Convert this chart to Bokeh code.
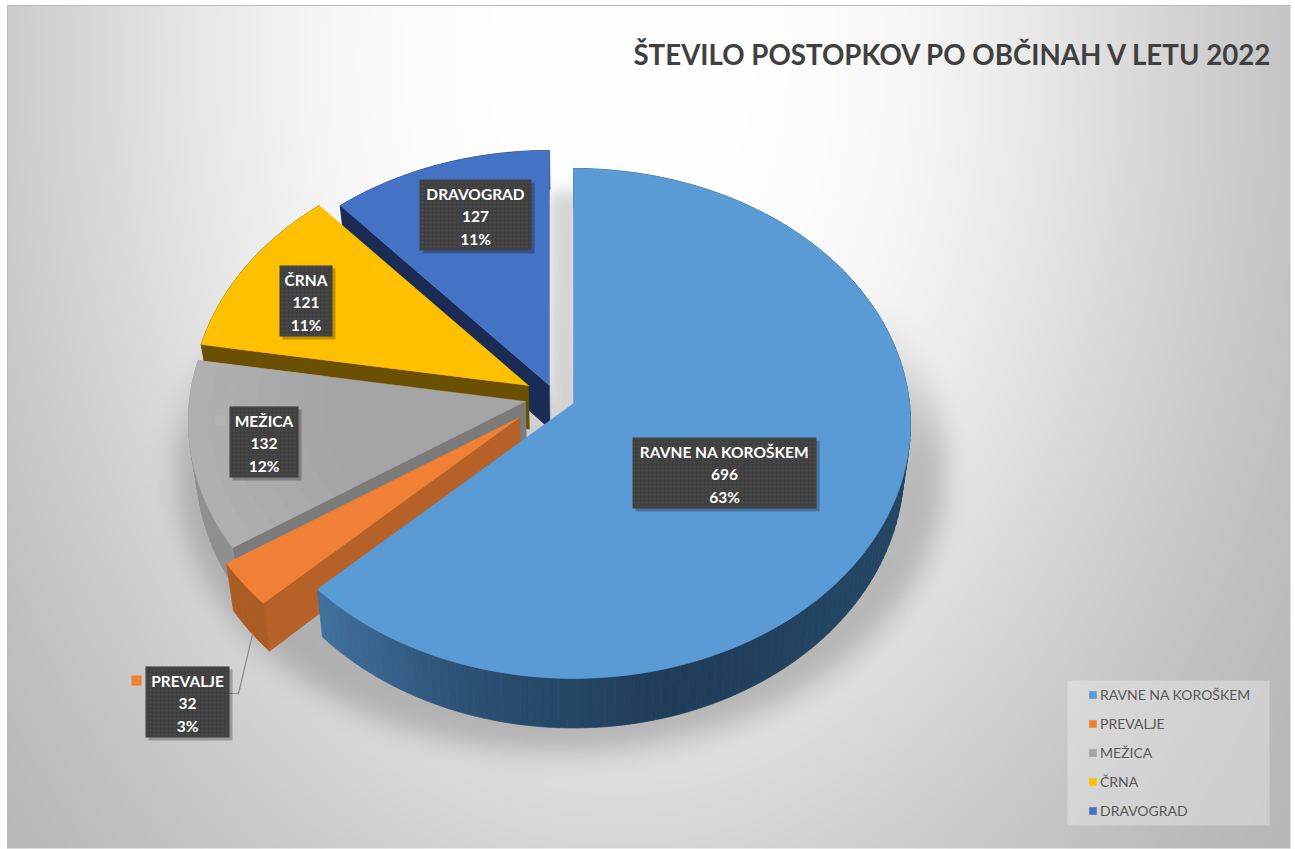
import numpy as np
from bokeh.plotting import figure
from bokeh.models import Legend, LegendItem
from bokeh.core.properties import value
from bokeh.embed import file_html
from bokeh.resources import INLINE

TITLE = "ŠTEVILO POSTOPKOV PO OBČINAH V LETU 2022"
names = ["RAVNE NA KOROŠKEM", "PREVALJE", "MEŽICA", "ČRNA", "DRAVOGRAD"]
values = [696, 32, 132, 121, 127]

top_colors = ["#5b9bd5", "#f08035", "#a5a5a5", "#ffc000", "#4472c4"]
radial_colors = ["#2c5478", "#b56127", "#7b7b7b", "#6a5000", "#1b2c54"]
rim_stops = [
    [(0, "#234563"), (130, "#234563"), (165, "#1f3c58"), (195, "#2a4f72"), (226, "#41729f")],
    [(0, "#ab5c23"), (360, "#ab5c23")],
    [(0, "#8a8a8a"), (360, "#929292")],
    [(0, "#6a5000"), (360, "#6a5000")],
    [(0, "#1b2c54"), (360, "#1b2c54")],
]
shift_x = [0, -54, -48, -45, -24]
shift_y = [0, 14, -2, -18, -18]

CX, CY, RX, RY, PERSP = 573.0, 403.0, 336.0, 253.4, 0.0784
W, H = 1295, 849
AL, AT, AR, AB = 7, 5, 1290, 848

p = figure(width=W, height=H, x_range=(0, W), y_range=(H, 0),
           x_axis_type=None, y_axis_type=None, toolbar_location=None,
           output_backend="svg", min_border=0, outline_line_color=None)
p.grid.visible = False
p.background_fill_color = "white"
p.border_fill_color = "white"

# ---------- backdrop: radial fill + soft cast shadow -------------
STEP = 2
yy, xx = np.mgrid[AT:AB:STEP, AL:AR:STEP].astype(float)
d = np.sqrt(((xx - 620) / 650) ** 2 + ((yy - 60) / 950) ** 2)
shade = 255 - 76 * (1 - np.exp(-1.3 * d ** 2.9))

def blur(a, r):
    k = np.ones(2 * r + 1) / (2 * r + 1)
    for _ in range(3):
        a = np.apply_along_axis(lambda v: np.convolve(v, k, mode="same"), 0, a)
        a = np.apply_along_axis(lambda v: np.convolve(v, k, mode="same"), 1, a)
    return a

mask = (((xx - 560) / 385) ** 2 + ((yy - 470) / 282) ** 2 <= 1).astype(float)
mask *= np.clip((yy - 300) / 150, 0, 1)
cast = blur(mask, 6)
gap = ((xx > 548) & (xx < 580) & (yy > 190) & (yy < 420)).astype(float)
cast = np.maximum(cast, 0.8 * blur(gap, 3))
shade = shade * (1 - 0.2 * cast)

rgba = np.empty(shade.shape, dtype=np.uint32)
view = rgba.view(dtype=np.uint8).reshape((*shade.shape, 4))
g = np.clip(shade, 0, 255).astype(np.uint8)
view[..., 0] = g
view[..., 1] = g
view[..., 2] = g
view[..., 3] = 255
p.image_rgba(image=[rgba], x=AL, y=AT, dw=AR - AL, dh=AB - AT)
p.line([AL, AL, AR], [AB, AT, AT], line_color="#b8b8b8", line_width=1)

# ---------- projection -----------------------------------------
def project(theta, r, sx, sy):
    t = np.radians(theta)
    w = 1 + PERSP * r * np.cos(t)
    return CX + sx + RX * r * np.sin(t) / w, CY + sy - RY * r * np.cos(t) / w

def lower(x, y):
    return CX + (x - CX) * 0.98, y + 44 + (y - CY) * 0.02

def hex2rgb(h):
    return np.array([int(h[i:i + 2], 16) for i in (1, 3, 5)], dtype=float)

def ramp(stops, theta):
    a = [s[0] for s in stops]
    c = np.array([hex2rgb(s[1]) for s in stops])
    v = [np.interp(theta, a, c[:, j]) for j in range(3)]
    return "#%02x%02x%02x" % tuple(int(round(q)) for q in v)

total = sum(values)
edges = np.concatenate([[0], np.cumsum(values)]) / total * 360.0
renderers = {}

for i in reversed(range(len(values))):
    a0, a1 = edges[i], edges[i + 1]
    sx, sy = shift_x[i], shift_y[i]
    ax, ay = CX + sx, CY + sy
    mx, my = project((a0 + a1) / 2, 0.6, sx, sy)
    # radial walls seen from the viewer's side
    for a in (a0, a1):
        rx, ry = project(a, 1, sx, sy)
        t = (ax - rx)
        edge_y_at_mid = ry + (ay - ry) * ((mx - rx) / t) if abs(t) > 1e-6 else None
        if edge_y_at_mid is not None and my < edge_y_at_mid:
            bax, bay = lower(ax, ay)
            brx, bry = lower(rx, ry)
            p.patch([ax, rx, brx, bax], [ay, ry, bry, bay], fill_color=radial_colors[i],
                    line_color=radial_colors[i], line_width=0.5)
    # outer wall
    n = max(int((a1 - a0) / 1.5), 2)
    angles = np.linspace(a0, a1, n + 1)
    qx, qy, qc = [], [], []
    for b0, b1 in zip(angles[:-1], angles[1:]):
        x0, y0 = project(b0, 1, sx, sy)
        x1, y1 = project(b1, 1, sx, sy)
        lx0, ly0 = lower(x0, y0)
        lx1, ly1 = lower(x1, y1)
        qx.append([x0, x1, lx1, lx0])
        qy.append([y0, y1, ly1, ly0])
        qc.append(ramp(rim_stops[i], (b0 + b1) / 2))
    p.patches(qx, qy, fill_color=qc, line_color=qc, line_width=0.7)
    # top face
    arc = np.linspace(a0, a1, max(int(a1 - a0), 2) + 1)
    tx, ty = project(arc, 1, sx, sy)
    renderers[i] = p.patch([ax, *tx], [ay, *ty], fill_color=top_colors[i], line_color=top_colors[i],
                           line_width=0.5)
    if i == 2:  # the grey face lightens toward its rim
        rings = np.linspace(0.6, 1.0, 13)
        rx_, ry_, rc_ = [], [], []
        for r0, r1 in zip(rings[:-1], rings[1:]):
            ox, oy = project(arc, r1, sx, sy)
            ix, iy = project(arc[::-1], r0, sx, sy)
            rx_.append([*ox, *ix])
            ry_.append([*oy, *iy])
            rc_.append(ramp([(0.6, "#a5a5a5"), (1.0, "#b1b1b1")], (r0 + r1) / 2))
        p.patches(rx_, ry_, fill_color=rc_, line_color=rc_, line_width=0.5)

# ---------- leader + data labels --------------------------------
p.line([229, 238, 252], [693, 693, 634], line_color="#8c8c8c", line_width=1.2)
p.quad(left=[131], right=[141], top=[675], bottom=[685], fill_color=top_colors[1], line_color=None)
p.quad(left=[215], right=[225], top=[415], bottom=[425], fill_color="#b4b4b4", line_color=None)

box_left = [632, 145, 229, 279, 419]
box_right = [816, 229, 298, 332, 531]
box_top = [437, 666, 406, 265, 179]
BOX_H = 71
bt = np.array(box_top, dtype=float)
p.quad(left=np.array(box_left) + 3, right=np.array(box_right) + 3, top=bt + 3, bottom=bt + BOX_H + 3,
       fill_color="black", fill_alpha=0.25, line_color=None)
p.quad(left=box_left, right=box_right, top=box_top, bottom=bt + BOX_H, fill_color="#404040", line_color=None,
       hatch_pattern="dot", hatch_color="#505050", hatch_scale=4, hatch_weight=1, hatch_alpha=0.6)
centers = [(a + b) / 2 for a, b in zip(box_left, box_right)]
pcts = [f"{round(v / total * 100)}%" for v in values]
for row, texts in enumerate([names, [str(v) for v in values], pcts]):
    p.text(x=centers, y=bt + 14.5 + row * 22.5, text=texts, text_font=value("Lato"), text_font_style="bold",
           text_font_size="15.5px", text_color="white", text_align="center", text_baseline="middle")

p.text(x=[1273], y=[54], text=[TITLE], text_font=value("Lato"), text_font_style="bold",
       text_font_size="27.7px", text_color="#404040", text_align="right", text_baseline="middle")

# ---------- legend -----------------------------------------------
p.quad(left=[1067], right=[1269], top=[680], bottom=[825], fill_color="white", fill_alpha=0.3, line_color=None)
legend = Legend(items=[LegendItem(label=n, renderers=[renderers[i]]) for i, n in enumerate(names)],
                location=(1088, 29), orientation="vertical", padding=0, margin=0, spacing=9,
                glyph_width=9, glyph_height=9, label_height=20, label_standoff=3,
                background_fill_alpha=0, border_line_color=None,
                label_text_font="Lato", label_text_font_size="14px", label_text_color="#595959")
p.add_layout(legend, "center")

open("out.html", "w").write(file_html(p, INLINE))
